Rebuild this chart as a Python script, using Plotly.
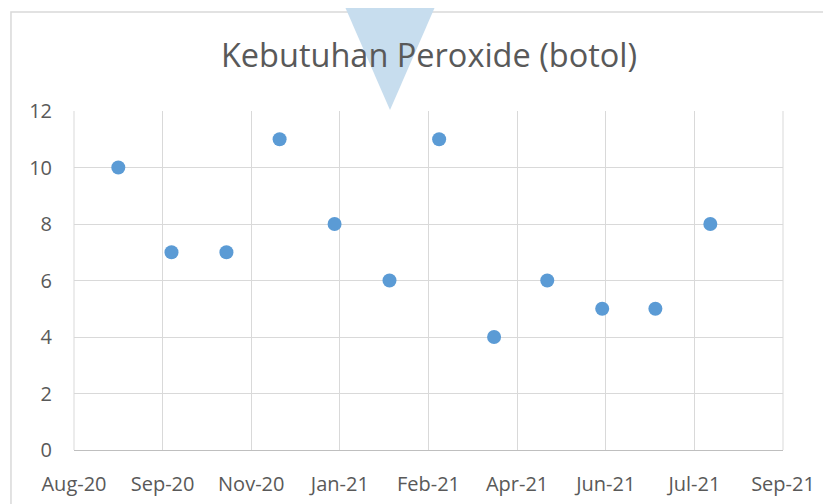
import plotly.graph_objects as go

# monthly needs (bottles), first of each month
bulan = ["2020-09-01", "2020-10-01", "2020-11-01", "2020-12-01",
         "2021-01-01", "2021-02-01", "2021-03-01", "2021-04-01",
         "2021-05-01", "2021-06-01", "2021-07-01", "2021-08-01"]
botol = [10, 7, 7, 11, 8, 6, 11, 4, 6, 5, 5, 8]

# excel auto axis: min 44050 (7 Aug 2020), major unit 50 days
x_min = "2020-08-07"
x_max = "2021-09-11"
y_ticks = [0, 2, 4, 6, 8, 10, 12]

fig = go.Figure()
fig.add_trace(go.Scatter(
    x=bulan, y=botol, mode="markers",
    marker=dict(color="#5B9BD5", size=14),
))

grid = "#D9D9D9"
txt = "#595959"
# page body has an 8px margin, so the figure is a bit smaller than the window
fig.update_layout(
    width=823, height=496,
    margin=dict(l=66, r=48, t=103, b=54),
    paper_bgcolor="white", plot_bgcolor="white",
    font=dict(family="Open Sans", color=txt, size=20),
    showlegend=False,
    title=dict(text="Kebutuhan Peroxide (botol)", x=0.5116, xanchor="center",
               y=0.903, yanchor="middle", font=dict(size=32.5, color=txt)),
    xaxis=dict(type="date", range=[x_min, x_max], tick0=x_min,
               dtick=50 * 86400000, tickformat="%b-%y",
               showgrid=True, gridcolor=grid, gridwidth=1,
               showline=True, linecolor="#BFBFBF", linewidth=1,
               zeroline=False, ticks="", ticklabelstandoff=16,
               automargin=False),
    yaxis=dict(range=[0, 12], tickvals=y_ticks,
               showgrid=True, gridcolor=grid, gridwidth=1,
               showline=False, zeroline=False, ticks="",
               ticklabelstandoff=21, automargin=False),
)

# gridlines at the left and right edges of the plot area
fig.add_shape(type="line", xref="paper", yref="paper", x0=1, x1=1, y0=0, y1=1,
              line=dict(color=grid, width=1))
fig.add_shape(type="line", xref="paper", yref="paper", x0=0, x1=0, y0=0, y1=1,
              line=dict(color=grid, width=1))

# chart area border
fig.add_shape(type="rect", xref="paper", yref="paper",
              x0=-0.0889, x1=1.0663, y0=-0.2, y1=1.292,
              line=dict(color=grid, width=1.5), layer="below")

# light blue callout pointer overlapping the chart
fig.add_shape(type="path", xref="paper", yref="paper",
              path="M 0.378 1.3274 L 0.5134 1.3274 L 0.4457 1.003 Z",
              fillcolor="#C7DDEE", line=dict(width=0), layer="below")

fig.write_html("out.html")
